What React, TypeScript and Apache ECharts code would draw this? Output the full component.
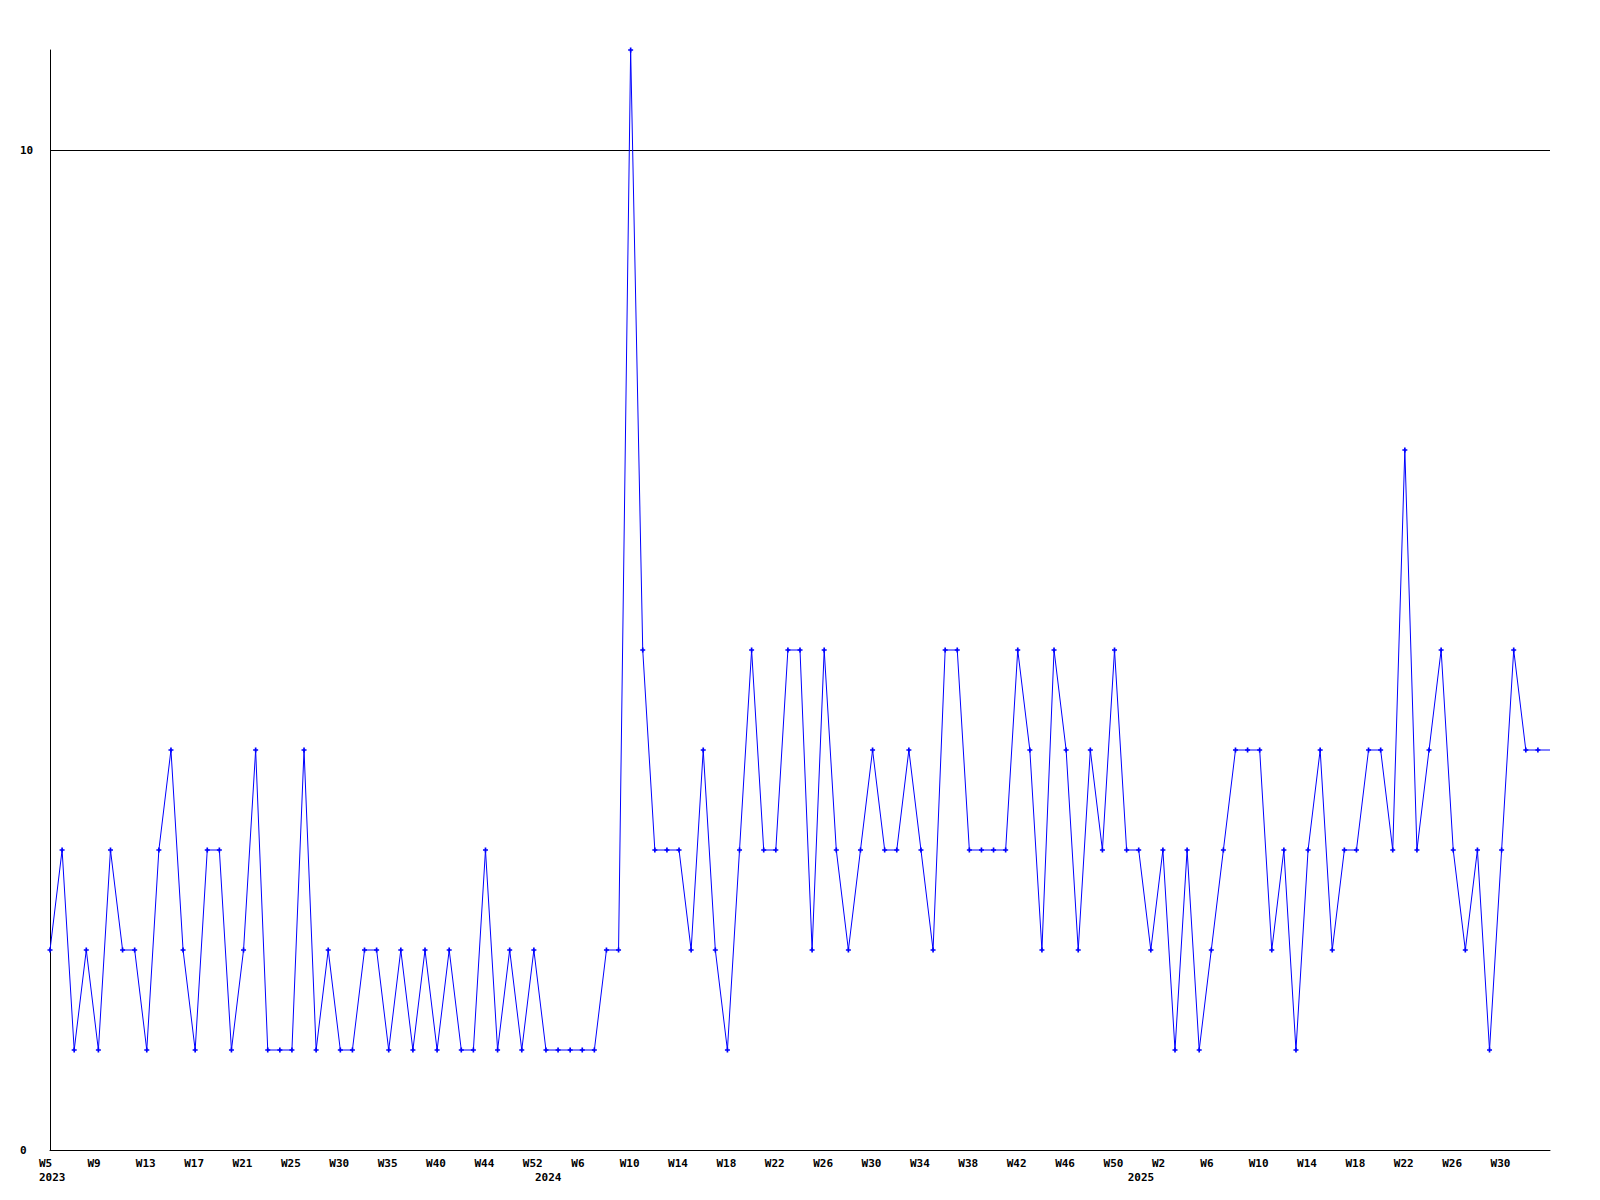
import React, { useEffect, useRef } from "react";
import * as echarts from "echarts";

// Week labels per year (strftime %W numbering, some weeks missing)
const weeks2023 = [
  "W5", "W6", "W7", "W8", "W9", "W10", "W11", "W12", "W13", "W14", "W15",
  "W16", "W17", "W18", "W19", "W20", "W21", "W22", "W23", "W24", "W25",
  "W26", "W27", "W28", "W30", "W31", "W32", "W33", "W35", "W36", "W37",
  "W38", "W40", "W41", "W42", "W43", "W44", "W46", "W48", "W50", "W52",
];
const weeks2024 = [
  "W1", "W2", "W4", "W6", "W7", "W8", "W9", "W10", "W11", "W12", "W13",
  "W14", "W15", "W16", "W17", "W18", "W19", "W20", "W21", "W22", "W23",
  "W24", "W25", "W26", "W27", "W28", "W29", "W30", "W31", "W32", "W33",
  "W34", "W35", "W36", "W37", "W38", "W39", "W40", "W41", "W42", "W43",
  "W44", "W45", "W46", "W47", "W48", "W49", "W50", "W52",
];
const weeks2025 = [
  "W0", "W1", "W2", "W3", "W4", "W5", "W6", "W7", "W8", "W9", "W10",
  "W11", "W12", "W13", "W14", "W15", "W16", "W17", "W18", "W19", "W20",
  "W21", "W22", "W23", "W24", "W25", "W26", "W27", "W28", "W29", "W30",
  "W31", "W32", "W33", "W34",
];
const years = ["2023", "2024", "2025"];

const values = [
  2, 3, 1, 2, 1, 3, 2, 2, 1, 3,
  4, 2, 1, 3, 3, 1, 2, 4, 1, 1,
  1, 4, 1, 2, 1, 1, 2, 2, 1, 2,
  1, 2, 1, 2, 1, 1, 3, 1, 2, 1,
  2, 1, 1, 1, 1, 1, 2, 2, 11, 5,
  3, 3, 3, 2, 4, 2, 1, 3, 5, 3,
  3, 5, 5, 2, 5, 3, 2, 3, 4, 3,
  3, 4, 3, 2, 5, 5, 3, 3, 3, 3,
  5, 4, 2, 5, 4, 2, 4, 3, 5, 3,
  3, 2, 3, 1, 3, 1, 2, 3, 4, 4,
  4, 2, 3, 1, 3, 4, 2, 3, 3, 4,
  4, 3, 7, 3, 4, 5, 3, 2, 3, 1,
  3, 5, 4, 4, 4,
];

const yTickLabels = ["0", "10"];
const gridLineValue = 10;

export default function App() {
  const ref = useRef<HTMLDivElement>(null);

  useEffect(() => {
    if (!ref.current) return;
    const chart = echarts.init(ref.current, undefined, { renderer: "svg" });

    const weekLists = [weeks2023, weeks2024, weeks2025];
    const categories: string[] = [];
    const weekOf: string[] = [];
    const yearStart: Record<number, string> = {};
    weekLists.forEach((list, yi) => {
      yearStart[categories.length] = years[yi];
      list.forEach((w) => {
        categories.push(years[yi] + "-" + w);
        weekOf.push(w);
      });
    });
    const lastIndex = categories.length - 1;
    const showWeek = (i: number) => i % 4 === 0 && i !== lastIndex;

    const font = "'DejaVu Sans Mono', monospace";
    const seriesData = values.map((v, i) =>
      i === values.length - 1 ? { value: v, symbol: "none" } : v
    );

    chart.setOption({
      animation: false,
      backgroundColor: "#ffffff",
      grid: {
        left: 50,
        right: 50,
        top: 50,
        bottom: 50,
        containLabel: false,
        outerBoundsMode: "none",
      },
      xAxis: {
        type: "category",
        data: categories,
        boundaryGap: false,
        axisLine: { show: true, lineStyle: { color: "#000000", width: 1 } },
        axisTick: { show: false },
        splitLine: { show: false },
        axisLabel: {
          interval: (index: number) =>
            showWeek(index) || yearStart[index] !== undefined,
          margin: 6,
          align: "center",
          formatter: (_v: string, index: number) => {
            const wk = showWeek(index) ? weekOf[index] : " ";
            const yr = yearStart[index];
            return yr !== undefined ? `{w|${wk}}\n{w|${yr}}` : `{w|${wk}}`;
          },
          rich: {
            w: {
              width: 22,
              align: "left",
              fontFamily: font,
              fontWeight: "bold",
              fontSize: 11,
              lineHeight: 14.5,
              color: "#000000",
            },
          },
        },
      },
      yAxis: {
        type: "value",
        min: 0,
        max: 11,
        interval: 10,
        axisLine: { show: true, lineStyle: { color: "#000000", width: 1 } },
        axisTick: { show: false },
        splitLine: { show: false },
        axisLabel: {
          align: "left",
          margin: 30,
          fontFamily: font,
          fontWeight: "bold",
          fontSize: 11,
          color: "#000000",
          formatter: (v: number) => (v === 0 ? yTickLabels[0] : v === 10 ? yTickLabels[1] : ""),
        },
      },
      series: [
        {
          type: "line",
          data: seriesData,
          showSymbol: true,
          showAllSymbol: true,
          symbol: "path://M1,0H2V1H3V2H2V3H1V2H0V1H1Z",
          symbolSize: 5,
          itemStyle: { color: "#0000ff" },
          lineStyle: { color: "#0000ff", width: 1 },
          clip: false,
          z: 3,
          markLine: {
            silent: true,
            symbol: "none",
            label: { show: false },
            lineStyle: { color: "#000000", width: 1, type: "solid" },
            emphasis: { disabled: true },
            z: 1,
            data: [{ yAxis: gridLineValue }],
          },
        },
      ],
    });

    return () => chart.dispose();
  }, []);

  return (
    <div
      ref={ref}
      style={{ position: "fixed", left: 0, top: 0, width: 1600, height: 1200, background: "#fff" }}
    />
  );
}
